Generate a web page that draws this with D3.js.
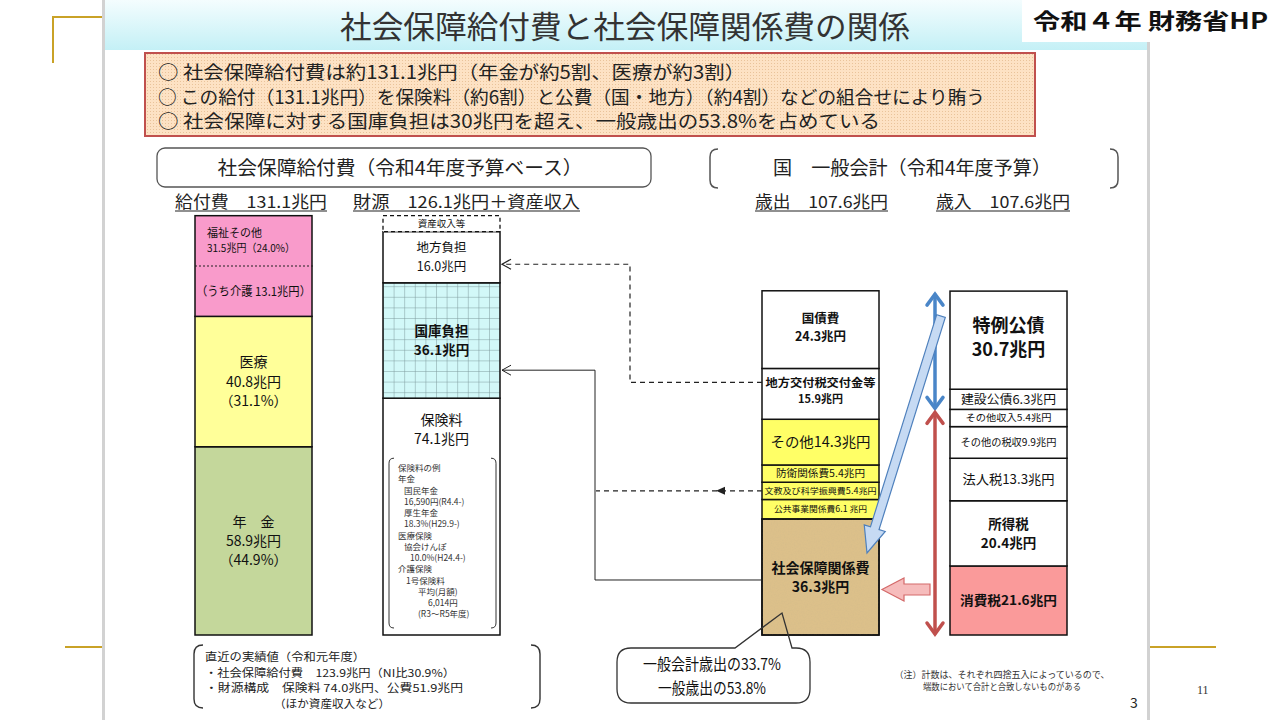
<!DOCTYPE html>
<html>
<head>
<meta charset="utf-8">
<script src="https://cdn.jsdelivr.net/npm/d3@7"></script>
<style>
  body { margin: 0; background: #fff; }
  svg { display: block; }
  text { font-family: "Noto Sans CJK JP", "Noto Sans", sans-serif; fill: #111; }
</style>
</head>
<body>
<svg id="chart" width="1280" height="720"></svg>
<script>
// ---- data (兆円) ----
const benefitCats = ["年金", "医療", "福祉その他"];
const benefitVals = [58.9, 40.8, 31.5];
const benefitPct = [44.9, 31.1, 24.0];
const kaigoVal = 13.1;
const fundCats = ["保険料", "国庫負担", "地方負担", "資産収入等"];
const fundVals = [74.1, 36.1, 16.0, 5.0];
const expCats = ["社会保障関係費", "公共事業関係費", "文教及び科学振興費", "防衛関係費", "その他", "地方交付税交付金等", "国債費"];
const expVals = [36.3, 6.1, 5.4, 5.4, 14.3, 15.9, 24.3];
const revCats = ["消費税", "所得税", "法人税", "その他の税収", "その他収入", "建設公債", "特例公債"];
const revVals = [21.6, 20.4, 13.3, 9.9, 5.4, 6.3, 30.7];
const benefitTotal = 131.1, fundTotal = 126.1, budgetTotal = 107.6;
const premiumExamples = ["保険料の例", "年金", "国民年金", "16,590円(R4.4-)", "厚生年金", "18.3%(H29.9-)", "医療保険", "協会けんぽ", "10.0%(H24.4-)", "介護保険", "1号保険料", "平均(月額)", "6,014円", "(R3～R5年度)"];
const premiumIndent = [0, 0, 6, 6, 6, 6, 0, 6, 12, 0, 8, 20, 30, 20];
const summaryLines = [
  "○ 社会保障給付費は約131.1兆円（年金が約5割、医療が約3割）",
  "○ この給付（131.1兆円）を保険料（約6割）と公費（国・地方）（約4割）などの組合せにより賄う",
  "○ 社会保障に対する国庫負担は30兆円を超え、一般歳出の53.8%を占めている"
];
const recentLines = ["直近の実績値（令和元年度）", "・社会保障給付費　123.9兆円（NI比30.9%）", "・財源構成　保険料 74.0兆円、公費51.9兆円", "（ほか資産収入など）"];
const calloutLines = ["一般会計歳出の33.7%", "一般歳出の53.8%"];
const noteLines = ["（注）計数は、それぞれ四捨五入によっているので、", "端数において合計と合致しないものがある"];

const fmt = d3.format(".1f");
const svg = d3.select("#chart");
const defs = svg.append("defs");

// scales
const y = d3.scaleLinear().domain([0, benefitTotal]).range([635, 216]);
const xBar = d3.scaleOrdinal().domain(["給付費", "財源", "歳出", "歳入"]).range([195, 383, 762, 950]);
const barW = 117;

function stack(cats, vals) {
  let acc = 0;
  return cats.map((c, i) => { const s = { cat: c, val: vals[i], i: i, y0: acc, y1: acc + vals[i] }; acc += vals[i]; return s; });
}

function txt(g, x, yy, s, o = {}) {
  const t = g.append("text").attr("x", x).attr("y", yy).text(s)
    .attr("font-size", o.size || 12)
    .attr("font-weight", o.bold ? "bold" : "normal")
    .attr("text-anchor", o.anchor || "start");
  if (o.fill) t.style("fill", o.fill);
  if (o.len) t.attr("textLength", o.len).attr("lengthAdjust", "spacingAndGlyphs");
  if (o.family) t.style("font-family", o.family);
  return t;
}

// ---- patterns / gradients ----
const hg = defs.append("linearGradient").attr("id", "hdr").attr("x1", 0).attr("y1", 0).attr("x2", 0).attr("y2", 1);
hg.append("stop").attr("offset", 0).attr("stop-color", "#f4fdfe");
hg.append("stop").attr("offset", 1).attr("stop-color", "#c4f0f6");

const dots = defs.append("pattern").attr("id", "dots").attr("width", 3).attr("height", 3).attr("patternUnits", "userSpaceOnUse");
dots.append("rect").attr("width", 3).attr("height", 3).attr("fill", "#fde2c4");
dots.append("rect").attr("width", 1).attr("height", 1).attr("fill", "#e9c39a");

const grid = defs.append("pattern").attr("id", "grid").attr("width", 10.6).attr("height", 10.6)
  .attr("patternUnits", "userSpaceOnUse").attr("x", xBar("財源")).attr("y", 0);
grid.append("rect").attr("width", 10.6).attr("height", 10.6).attr("fill", "#d2f8f8");
grid.append("path").attr("d", "M0,0 L10.6,0 M0,0 L0,10.6").attr("stroke", "#7d9a9c").attr("stroke-width", 1);

const paper = defs.append("filter").attr("id", "paper").attr("x", 0).attr("y", 0).attr("width", 1).attr("height", 1);
paper.append("feTurbulence").attr("type", "fractalNoise").attr("baseFrequency", 0.7).attr("numOctaves", 3).attr("result", "n");
paper.append("feColorMatrix").attr("in", "n").attr("type", "matrix")
  .attr("values", "0 0 0 0 0.62  0 0 0 0 0.48  0 0 0 0 0.25  0 0 0 0.6 -0.22").attr("result", "c");
paper.append("feComposite").attr("in", "c").attr("in2", "SourceGraphic").attr("operator", "in");

// ---- slide frame ----
svg.append("rect").attr("x", 105).attr("y", 0).attr("width", 1042).attr("height", 50).attr("fill", "url(#hdr)");
svg.append("rect").attr("x", 102).attr("y", 0).attr("width", 3).attr("height", 720).attr("fill", "#d2d2d2");
svg.append("rect").attr("x", 1147).attr("y", 0).attr("width", 3).attr("height", 720).attr("fill", "#d2d2d2");
svg.append("path").attr("d", "M53,63 L53,17 L102,17").attr("fill", "none").attr("stroke", "#c9a227").attr("stroke-width", 2);
svg.append("path").attr("d", "M65,647 L102,647").attr("stroke", "#c9a227").attr("stroke-width", 2);
svg.append("path").attr("d", "M1150,647 L1216,647").attr("stroke", "#c9a227").attr("stroke-width", 2);
svg.append("rect").attr("x", 1022).attr("y", 0).attr("width", 258).attr("height", 42).attr("fill", "#fff");
txt(svg, 1033, 29, "令和４年 財務省HP", { size: 22, bold: true, len: 235 });
txt(svg, 1197, 694, "11", { size: 12, family: "Liberation Serif", fill: "#333" });
txt(svg, 1130, 708, "3", { size: 14, fill: "#222" });

// title
txt(svg, 625, 38, "社会保障給付費と社会保障関係費の関係", { size: 31, anchor: "middle", len: 570, fill: "#333" });

// summary box
svg.append("rect").attr("x", 145).attr("y", 53).attr("width", 890).attr("height", 83)
  .attr("fill", "url(#dots)").attr("stroke", "#c0504d").attr("stroke-width", 2);
const sumLen = [587, 827, 722];
summaryLines.forEach((s, i) => txt(svg, 158, 79 + i * 24.5, s, { size: 18.5, len: sumLen[i], fill: "#222" }));

// section headers
svg.append("rect").attr("x", 157).attr("y", 148).attr("width", 494).attr("height", 39).attr("rx", 8)
  .attr("fill", "#fff").attr("stroke", "#555").attr("stroke-width", 1.3);
txt(svg, 400, 175, "社会保障給付費（令和4年度予算ベース）", { size: 19, anchor: "middle", len: 365, fill: "#222" });
svg.append("path").attr("d", "M718,149 Q710,149 710,157 L710,180 Q710,188 718,188 M1110,149 Q1118,149 1118,157 L1118,180 Q1118,188 1110,188")
  .attr("fill", "none").attr("stroke", "#555").attr("stroke-width", 1.5);
txt(svg, 912, 175, "国　一般会計（令和4年度予算）", { size: 19, anchor: "middle", len: 278, fill: "#222" });

const subs = [
  ["給付費　" + fmt(benefitTotal) + "兆円", 175, 327],
  ["財源　" + fmt(fundTotal) + "兆円＋資産収入", 353, 580],
  ["歳出　" + fmt(budgetTotal) + "兆円", 755, 888],
  ["歳入　" + fmt(budgetTotal) + "兆円", 936, 1070]
];
subs.forEach(([s, a, b]) => {
  txt(svg, a, 208, s, { size: 16.5, len: b - a, fill: "#222" });
  svg.append("line").attr("x1", a).attr("x2", b).attr("y1", 211).attr("y2", 211).attr("stroke", "#222").attr("stroke-width", 1.2);
});

// ---- bars ----
function drawBar(key, segs, fillOf) {
  const g = svg.append("g");
  g.selectAll("rect").data(segs).enter().append("rect")
    .attr("x", xBar(key)).attr("width", barW)
    .attr("y", d => y(d.y1)).attr("height", d => y(d.y0) - y(d.y1))
    .attr("fill", fillOf)
    .attr("stroke", "#111").attr("stroke-width", 1.5);
  return g;
}
function segLabel(g, key, d, lines, o) {
  const cx = xBar(key) + barW / 2;
  const cy = (y(d.y0) + y(d.y1)) / 2 + (o.dy || 0);
  const lh = o.lh || o.size * 1.35;
  lines.forEach((s, i) => txt(g, cx, cy + (i - (lines.length - 1) / 2) * lh + o.size * 0.36, s, { size: o.size, bold: o.bold, anchor: "middle", len: o.len ? o.len[i] : null }));
}

// 給付費
const bSegs = stack(benefitCats, benefitVals);
const bFill = { "年金": "#c4d79b", "医療": "#ffff99", "福祉その他": "#f99bcb" };
const gB = drawBar("給付費", bSegs, d => bFill[d.cat]);
segLabel(gB, "給付費", bSegs[0], ["年　金", fmt(bSegs[0].val) + "兆円", "（" + fmt(benefitPct[0]) + "%）"], { size: 14, lh: 19 });
segLabel(gB, "給付費", bSegs[1], ["医療", fmt(bSegs[1].val) + "兆円", "（" + fmt(benefitPct[1]) + "%）"], { size: 14, lh: 19.5 });
{
  const d = bSegs[2], top = y(d.y1), bot = y(d.y0), mid = (top + bot) / 2;
  gB.append("line").attr("x1", xBar("給付費")).attr("x2", xBar("給付費") + barW + 3).attr("y1", mid).attr("y2", mid)
    .attr("stroke", "#222").attr("stroke-dasharray", "2,2").attr("stroke-width", 1.2);
  txt(gB, xBar("給付費") + 12, top + 21, d.cat, { size: 11 });
  txt(gB, xBar("給付費") + 12, top + 36, fmt(d.val) + "兆円（" + fmt(benefitPct[2]) + "%）", { size: 11, len: 88 });
  txt(gB, xBar("給付費") + barW / 2, (mid + bot) / 2 + 4.5, "（うち介護 " + fmt(kaigoVal) + "兆円）", { size: 12, anchor: "middle", len: 115 });
}

// 財源
const fSegs = stack(fundCats, fundVals);
const gF = drawBar("財源", fSegs, d => d.cat === "国庫負担" ? "url(#grid)" : "#fff");
gF.selectAll("rect").filter(d => d.cat === "資産収入等").attr("stroke-dasharray", "4,3").attr("stroke-width", 1.3);
segLabel(gF, "財源", fSegs[3], [fSegs[3].cat], { size: 9.5 });
segLabel(gF, "財源", fSegs[2], [fSegs[2].cat, fmt(fSegs[2].val) + "兆円"], { size: 12.5, lh: 19 });
segLabel(gF, "財源", fSegs[1], [fSegs[1].cat, fmt(fSegs[1].val) + "兆円"], { size: 13.5, bold: true, lh: 19 });
{
  const d = fSegs[0], top = y(d.y1), x0 = xBar("財源");
  txt(gF, x0 + barW / 2, top + 27, d.cat, { size: 14, anchor: "middle" });
  txt(gF, x0 + barW / 2, top + 46, fmt(d.val) + "兆円", { size: 14, anchor: "middle" });
  const bt = top + 60, bb = y(0) - 7;
  gF.append("path").attr("d", `M${x0 + 11},${bt} Q${x0 + 6},${bt} ${x0 + 6},${bt + 5} L${x0 + 6},${bb - 5} Q${x0 + 6},${bb} ${x0 + 11},${bb}
      M${x0 + barW - 9},${bt} Q${x0 + barW - 4},${bt} ${x0 + barW - 4},${bt + 5} L${x0 + barW - 4},${bb - 5} Q${x0 + barW - 4},${bb} ${x0 + barW - 9},${bb}`)
    .attr("fill", "none").attr("stroke", "#333").attr("stroke-width", 1);
  premiumExamples.forEach((s, i) => txt(gF, x0 + 15 + premiumIndent[i], bt + 13 + i * 11.25, s, { size: 8.5, fill: "#333" }));
}

// 歳出
const eSegs = stack(expCats, expVals);
const eFill = d => d.cat === "社会保障関係費" ? "#dcc08a" : (d.cat === "国債費" || d.cat === "地方交付税交付金等") ? "#fff" : "#ffff66";
const gE = drawBar("歳出", eSegs, eFill);
{
  const d = eSegs[0];
  gE.append("rect").attr("x", xBar("歳出")).attr("width", barW).attr("y", y(d.y1)).attr("height", y(d.y0) - y(d.y1))
    .attr("fill", "#dcc08a").attr("filter", "url(#paper)");
  gE.append("rect").attr("x", xBar("歳出")).attr("width", barW).attr("y", y(d.y1)).attr("height", y(d.y0) - y(d.y1))
    .attr("fill", "none").attr("stroke", "#111").attr("stroke-width", 1.5);
}
segLabel(gE, "歳出", eSegs[0], [eSegs[0].cat, fmt(eSegs[0].val) + "兆円"], { size: 14, bold: true, lh: 19 });
segLabel(gE, "歳出", eSegs[1], [eSegs[1].cat + fmt(eSegs[1].val) + " 兆円"], { size: 8.5, len: [93] });
segLabel(gE, "歳出", eSegs[2], [eSegs[2].cat + fmt(eSegs[2].val) + "兆円"], { size: 8.5, len: [112] });
segLabel(gE, "歳出", eSegs[3], [eSegs[3].cat + fmt(eSegs[3].val) + "兆円"], { size: 10, len: [89] });
segLabel(gE, "歳出", eSegs[4], [eSegs[4].cat + fmt(eSegs[4].val) + "兆円"], { size: 14, len: [100] });
segLabel(gE, "歳出", eSegs[5], [eSegs[5].cat, fmt(eSegs[5].val) + "兆円"], { size: 11, bold: true, lh: 16, dy: -3, len: [110, null] });
segLabel(gE, "歳出", eSegs[6], [eSegs[6].cat, fmt(eSegs[6].val) + "兆円"], { size: 12.5, bold: true, lh: 18, dy: -2 });

// 歳入
const rSegs = stack(revCats, revVals);
const gR = drawBar("歳入", rSegs, d => d.cat === "消費税" ? "#fa9a9a" : "#fff");
segLabel(gR, "歳入", rSegs[0], [rSegs[0].cat + fmt(rSegs[0].val) + "兆円"], { size: 13, bold: true, len: [97] });
segLabel(gR, "歳入", rSegs[1], [rSegs[1].cat, fmt(rSegs[1].val) + "兆円"], { size: 13.5, bold: true, lh: 19 });
segLabel(gR, "歳入", rSegs[2], [rSegs[2].cat + fmt(rSegs[2].val) + "兆円"], { size: 13, len: [92] });
segLabel(gR, "歳入", rSegs[3], [rSegs[3].cat + fmt(rSegs[3].val) + "兆円"], { size: 10, len: [96] });
segLabel(gR, "歳入", rSegs[4], [rSegs[4].cat + fmt(rSegs[4].val) + "兆円"], { size: 9.5, len: [86] });
segLabel(gR, "歳入", rSegs[5], [rSegs[5].cat + fmt(rSegs[5].val) + "兆円"], { size: 12, len: [95] });
segLabel(gR, "歳入", rSegs[6], [rSegs[6].cat, fmt(rSegs[6].val) + "兆円"], { size: 18, bold: true, lh: 24, dy: -3 });

// ---- connectors ----
const conn = svg.append("g").attr("fill", "none").attr("stroke", "#222").attr("stroke-width", 1.2);
const fR = xBar("財源") + barW + 2, eL = xBar("歳出");
const yChiho = (y(fSegs[2].y0) + y(fSegs[2].y1)) / 2 + 7;
const yKuni = y(fSegs[1].y0) - 28;
const yKofu = y(eSegs[5].y1) + 14;
const yShaho = (y(eSegs[0].y0) + y(eSegs[0].y1)) / 2 + 3;
const yBunkyo = (y(eSegs[2].y0) + y(eSegs[2].y1)) / 2;
conn.append("path").attr("d", `M${eL},${yKofu} L630,${yKofu} L630,${yChiho} L${fR},${yChiho}`).attr("stroke-dasharray", "5,4");
conn.append("path").attr("d", `M${fR + 9},${yChiho - 5} L${fR},${yChiho} L${fR + 9},${yChiho + 5}`);
conn.append("path").attr("d", `M${eL},${yShaho} L595,${yShaho} L595,${yKuni} L${fR},${yKuni}`).attr("stroke-width", 1);
conn.append("path").attr("d", `M${fR + 9},${yKuni - 5} L${fR},${yKuni} L${fR + 9},${yKuni + 5}`).attr("stroke-width", 1);
conn.append("path").attr("d", `M${eL},${yBunkyo} L596,${yBunkyo}`).attr("stroke-dasharray", "5,4");
svg.append("path").attr("d", `M716,${yBunkyo} L725,${yBunkyo - 4} L725,${yBunkyo + 4} Z`).attr("fill", "#222");

// double arrows (bonds / taxes)
const xa = 935;
function dblArrow(y0, y1, color) {
  const g = svg.append("g").attr("stroke", color).attr("stroke-width", 3.5).attr("fill", "none").attr("stroke-linecap", "round");
  g.append("line").attr("x1", xa).attr("x2", xa).attr("y1", y0 + 1).attr("y2", y1 - 1);
  g.append("path").attr("d", `M${xa - 8},${y0 + 11} L${xa},${y0} L${xa + 8},${y0 + 11}`);
  g.append("path").attr("d", `M${xa - 8},${y1 - 11} L${xa},${y1} L${xa + 8},${y1 - 11}`);
}
const yBond = y(rSegs[4].y1);
dblArrow(y(budgetTotal) + 3, yBond - 1, "#4a86c8");
dblArrow(yBond + 3, y(0) - 1, "#c0504d");

// block arrows
function blockArrow(x0, y0, x1, y1, sw, hw, hl) {
  const dx = x1 - x0, dy = y1 - y0, L = Math.hypot(dx, dy), ux = dx / L, uy = dy / L, px = -uy, py = ux;
  const bx = x1 - ux * hl, by = y1 - uy * hl;
  const p = [[x0 + px * sw / 2, y0 + py * sw / 2], [bx + px * sw / 2, by + py * sw / 2], [bx + px * hw / 2, by + py * hw / 2], [x1, y1],
    [bx - px * hw / 2, by - py * hw / 2], [bx - px * sw / 2, by - py * sw / 2], [x0 - px * sw / 2, y0 - py * sw / 2]];
  return "M" + p.map(q => q.join(",")).join("L") + "Z";
}
svg.append("path").attr("d", blockArrow(941, 316, 867, 553, 9, 22, 26)).attr("fill", "#c6daf3").attr("stroke", "#4f81bd").attr("stroke-width", 1.2);
const yPink = (y(rSegs[0].y0) + y(rSegs[0].y1)) / 2 - 11;
svg.append("path").attr("d", blockArrow(930, yPink, 882, yPink, 11, 23, 22)).attr("fill", "#f6bcbc").attr("stroke", "#d46a6a").attr("stroke-width", 1.2);

// callout
svg.append("path").attr("d", "M631,648 L735,648 L782,613 L792,648 L796,648 Q810,648 810,662 L810,689 Q810,703 796,703 L631,703 Q617,703 617,689 L617,662 Q617,648 631,648 Z")
  .attr("fill", "none").attr("stroke", "#333").attr("stroke-width", 1.3);
const calLen = [138, 108];
calloutLines.forEach((s, i) => txt(svg, 712, 670 + i * 23.5, s, { size: 15.5, anchor: "middle", len: calLen[i] }));

// note
const noteLen = [215, 158];
noteLines.forEach((s, i) => txt(svg, 1002, 678 + i * 12, s, { size: 9, anchor: "middle", len: noteLen[i], fill: "#333" }));

// recent results bracket
svg.append("path").attr("d", "M203,645 Q194,645 194,654 L194,699 Q194,708 203,708 M531,645 Q540,645 540,654 L540,699 Q540,708 531,708")
  .attr("fill", "none").attr("stroke", "#333").attr("stroke-width", 1.4);
const recX = [205, 205, 205, 274], recLen = [160, 250, 258, 116];
recentLines.forEach((s, i) => txt(svg, recX[i], 661 + i * 15.7, s, { size: 11, len: recLen[i], fill: "#222" }));
</script>
</body>
</html>
